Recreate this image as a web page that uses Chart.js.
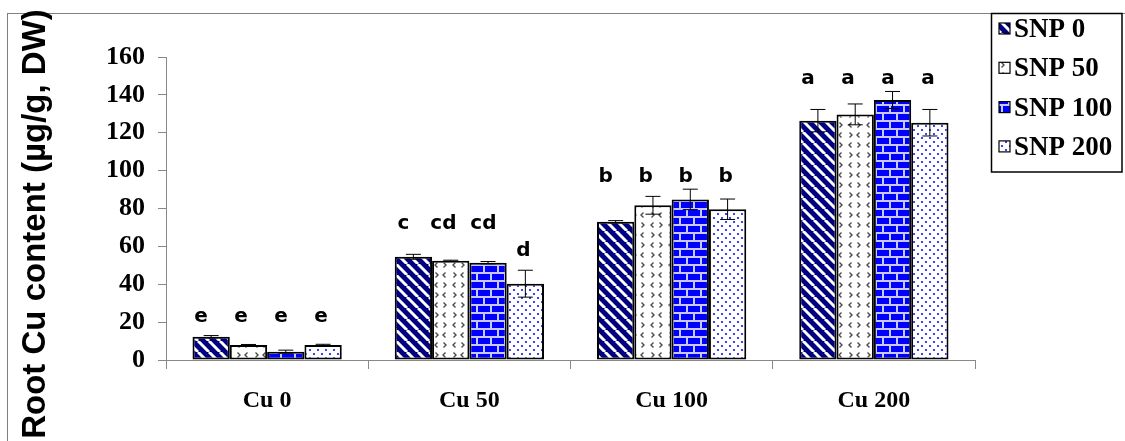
<!DOCTYPE html>
<html>
<head>
<meta charset="utf-8">
<script src="https://cdn.jsdelivr.net/npm/chart.js@4.4.1/dist/chart.umd.min.js"></script>
<style>
  body { margin: 0; background: #fff; }
  #wrap { width: 1125px; height: 441px; position: relative; }
</style>
</head>
<body>
<div id="wrap"><canvas id="cuChart"></canvas></div>
<script>
// categories and series
const categories = ['Cu 0', 'Cu 50', 'Cu 100', 'Cu 200'];
const seriesNames = ['SNP 0', 'SNP 50', 'SNP 100', 'SNP 200'];

const snp0 = [12.3, 54.5, 73.0, 126.4];
const snp50 = [7.9, 52.4, 81.7, 129.7];
const snp100 = [4.4, 51.4, 84.8, 137.3];
const snp200 = [7.9, 40.3, 79.6, 125.3];

// standard errors
const snp0Err = [0.6, 1.3, 0.6, 5.9];
const snp50Err = [0.3, 0.3, 4.7, 5.5];
const snp100Err = [0.8, 0.6, 5.4, 4.5];
const snp200Err = [0.4, 7.1, 5.4, 7.0];

// significance letters and the value where each sits
const snp0Letters = ['e', 'c', 'b', 'a'];
const snp50Letters = ['e', 'cd', 'b', 'a'];
const snp100Letters = ['e', 'cd', 'b', 'a'];
const snp200Letters = ['e', 'd', 'b', 'a'];
const letterLevel = [20, 69, 94, 145.6];
const snp200LetterLevel = [20, 55, 94, 145.6];

const yTicks = [0, 20, 40, 60, 80, 100, 120, 140, 160];

// ---- fill patterns ----
function makeTile(w, h, draw) {
    const c = document.createElement('canvas');
    c.width = w; c.height = h;
    const g = c.getContext('2d');
    draw(g, w, h);
    return document.createElement('canvas').getContext('2d').createPattern(c, 'repeat');
}

const stripes = makeTile(11, 11, (g, w, h) => {
    g.fillStyle = '#000080';
    g.fillRect(0, 0, w, h);
    g.strokeStyle = '#ffffff';
    g.lineWidth = 3;
    for (let k = -1; k <= 1; k++) {
        g.beginPath();
        g.moveTo(k * w, 0);
        g.lineTo(k * w + w, h);
        g.stroke();
    }
});

const chevrons = makeTile(18, 20, (g, w, h) => {
    g.fillStyle = '#ffffff';
    g.fillRect(0, 0, w, h);
    g.strokeStyle = '#4a4a4a';
    g.lineWidth = 1.4;
    const mark = (x, y, dir) => {
        g.beginPath();
        g.moveTo(x + 2.5 * dir, y - 2.5);
        g.lineTo(x, y);
        g.lineTo(x + 2.5 * dir, y + 2.5);
        g.stroke();
    };
    mark(3, 5, 1);
    mark(14, 5, -1);
    mark(6, 15, -1);
    mark(11, 15, 1);
});

const bricks = makeTile(14, 16, (g, w, h) => {
    g.fillStyle = '#0000ff';
    g.fillRect(0, 0, w, h);
    g.fillStyle = '#c8c8ff';
    g.fillRect(0, 0, w, 2);
    g.fillRect(0, 8, w, 2);
    g.fillRect(0, 0, 2, 8);
    g.fillRect(7, 8, 2, 8);
});

const dots = makeTile(8, 8, (g, w, h) => {
    g.fillStyle = '#ffffff';
    g.fillRect(0, 0, w, h);
    g.fillStyle = '#4040ff';
    g.fillRect(1, 1, 2, 2);
    g.fillRect(5, 5, 2, 2);
});

const fills = [stripes, chevrons, bricks, dots];
const values = [snp0, snp50, snp100, snp200];
const errors = [snp0Err, snp50Err, snp100Err, snp200Err];
const letters = [snp0Letters, snp50Letters, snp100Letters, snp200Letters];
const levels = [letterLevel, letterLevel, letterLevel, snp200LetterLevel];

// frame, title, legend
const decorations = {
    id: 'decorations',
    beforeDraw(chart) {
        const ctx = chart.ctx;
        ctx.save();
        ctx.fillStyle = '#fff';
        ctx.fillRect(0, 0, chart.width, chart.height);
        ctx.strokeStyle = '#808080';
        ctx.lineWidth = 1;
        ctx.strokeRect(7.5, 13.5, 1130, 450);
        ctx.restore();
    },
    afterDraw(chart) {
        const ctx = chart.ctx;
        ctx.save();
        // y axis title
        ctx.translate(45, 224);
        ctx.rotate(-Math.PI / 2);
        ctx.fillStyle = '#000';
        ctx.font = 'bold 33px "Liberation Sans", Arial, sans-serif';
        ctx.textAlign = 'center';
        ctx.textBaseline = 'alphabetic';
        ctx.fillText('Root Cu content (\u00b5g/g, DW)', 0, 0);
        ctx.restore();

        // legend
        ctx.save();
        ctx.fillStyle = '#fff';
        ctx.fillRect(991, 13, 131, 159);
        ctx.strokeStyle = '#000';
        ctx.lineWidth = 1.5;
        ctx.strokeRect(991.5, 13.5, 130.5, 158.5);
        chart.data.datasets.forEach((ds, i) => {
            const cy = 29 + i * 39.3;
            ctx.fillStyle = ds.backgroundColor;
            ctx.fillRect(999, cy - 6, 11, 11);
            ctx.strokeStyle = '#000';
            ctx.lineWidth = 1.2;
            ctx.strokeRect(999, cy - 6, 11, 11);
            ctx.fillStyle = '#000';
            ctx.font = 'bold 27px "Liberation Serif", "Times New Roman", serif';
            ctx.textAlign = 'left';
            ctx.textBaseline = 'middle';
            ctx.fillText(ds.label, 1014, cy + 1);
        });
        ctx.restore();
    }
};

// error bars and letters
const annotations = {
    id: 'annotations',
    afterDatasetsDraw(chart) {
        const ctx = chart.ctx;
        const yScale = chart.scales.y;
        const xScale = chart.scales.x;
        ctx.save();
        chart.data.datasets.forEach((ds, i) => {
            const meta = chart.getDatasetMeta(i);
            meta.data.forEach((bar, j) => {
                const v = values[i][j];
                const e = errors[i][j];
                const yTop = yScale.getPixelForValue(v + e);
                const yBot = yScale.getPixelForValue(v - e);
                ctx.strokeStyle = '#000';
                ctx.lineWidth = 1;
                ctx.beginPath();
                ctx.moveTo(bar.x, yTop);
                ctx.lineTo(bar.x, yBot);
                ctx.moveTo(bar.x - 7.5, yTop);
                ctx.lineTo(bar.x + 7.5, yTop);
                ctx.moveTo(bar.x - 7.5, yBot);
                ctx.lineTo(bar.x + 7.5, yBot);
                ctx.stroke();

                const lx = xScale.getPixelForValue(j) + (i - 1.5) * 40 - 6;
                ctx.fillStyle = '#000';
                ctx.font = 'bold 20px "DejaVu Sans", Verdana, sans-serif';
                ctx.textAlign = 'center';
                ctx.textBaseline = 'alphabetic';
                ctx.fillText(letters[i][j], lx, yScale.getPixelForValue(levels[i][j]));
            });
        });
        ctx.restore();
    }
};

const ctx = document.getElementById('cuChart').getContext('2d');
const cuChart = new Chart(ctx, {
    type: 'bar',
    data: {
        labels: categories,
        datasets: seriesNames.map((name, i) => ({
            label: name,
            data: values[i],
            backgroundColor: fills[i],
            borderColor: '#000',
            borderWidth: 2,
            borderSkipped: false,
            categoryPercentage: 0.738,
            barPercentage: 1.0
        }))
    },
    options: {
        responsive: true,
        maintainAspectRatio: false,
        animation: false,
        layout: {
            padding: { left: 106, right: 150, top: 57, bottom: 0 }
        },
        plugins: {
            legend: { display: false },
            tooltip: { enabled: false }
        },
        scales: {
            x: {
                afterFit: (s) => { s.height = 81; },
                grid: {
                    offset: true,
                    drawOnChartArea: false,
                    drawTicks: true,
                    tickLength: 9,
                    color: '#888'
                },
                border: { color: '#888', width: 1 },
                ticks: {
                    color: '#000',
                    padding: 17,
                    font: { family: '"Liberation Serif", "Times New Roman", serif', size: 24, weight: 'bold' }
                }
            },
            y: {
                min: 0,
                max: 160,
                afterFit: (s) => { s.width = 60; },
                afterBuildTicks: (s) => { s.ticks = yTicks.map(v => ({ value: v })); },
                grid: {
                    drawOnChartArea: false,
                    drawTicks: true,
                    tickLength: 8,
                    color: '#888'
                },
                border: { color: '#888', width: 1 },
                ticks: {
                    color: '#000',
                    padding: 13,
                    font: { family: '"Liberation Serif", "Times New Roman", serif', size: 26, weight: 'bold' }
                }
            }
        }
    },
    plugins: [decorations, annotations]
});
</script>
</body>
</html>
